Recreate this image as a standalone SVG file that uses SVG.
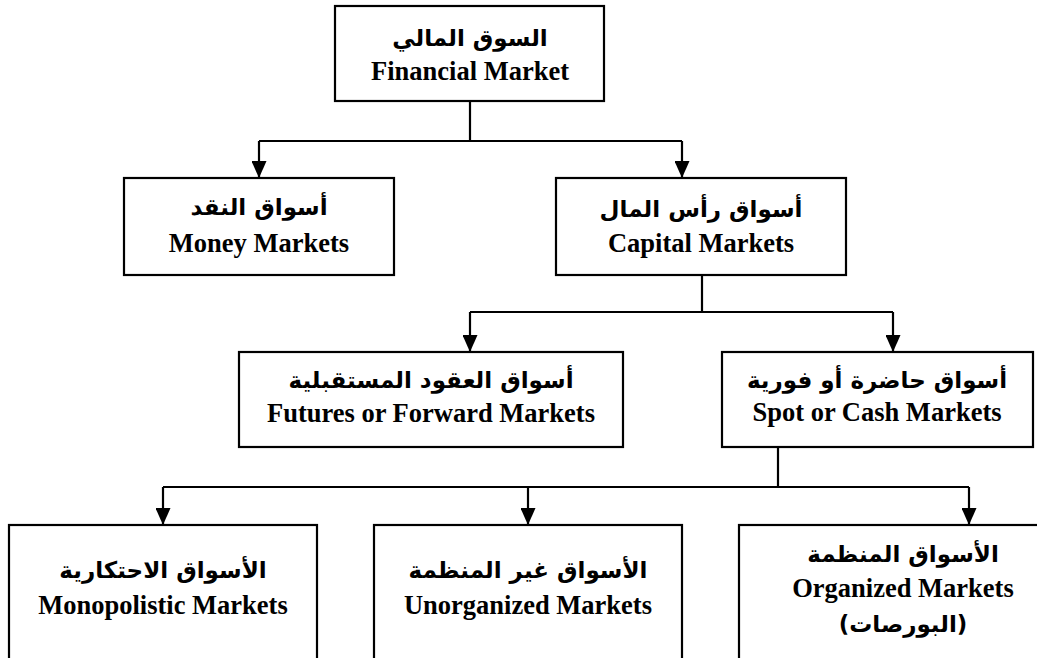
<svg xmlns="http://www.w3.org/2000/svg" width="1037" height="658" viewBox="0 0 1037 658">
<style>
.box{fill:#fff;stroke:#000;stroke-width:2.2}
.en{font-family:"Liberation Serif","Times New Roman",serif;font-weight:bold;font-size:26.5px;text-anchor:middle;fill:#000}
.ar{font-family:"DejaVu Sans","Liberation Serif",sans-serif;font-weight:bold;font-size:23px;text-anchor:middle;fill:#000}
.con{fill:none;stroke:#000;stroke-width:2.2}
</style>
<defs>
<marker id="arr" markerUnits="userSpaceOnUse" markerWidth="17" markerHeight="15" refX="17" refY="7.5" orient="auto" viewBox="0 0 17 15">
<path d="M0,0 L17,7.5 L0,15 Z" fill="#000"/>
</marker>
</defs>
<rect width="1037" height="658" fill="#fff"/>
<g id="connectors">
<path class="con" d="M470,101 V141 M259,141 H682"/>
<path class="con" d="M259,141 V178" marker-end="url(#arr)"/>
<path class="con" d="M682,141 V178" marker-end="url(#arr)"/>
<path class="con" d="M702,275 V312 M470,312 H893"/>
<path class="con" d="M470,312 V352" marker-end="url(#arr)"/>
<path class="con" d="M893,312 V352" marker-end="url(#arr)"/>
<path class="con" d="M778,447 V487 M163,487 H969"/>
<path class="con" d="M163,487 V525" marker-end="url(#arr)"/>
<path class="con" d="M528,487 V525" marker-end="url(#arr)"/>
<path class="con" d="M969,487 V525" marker-end="url(#arr)"/>
</g>
<g id="financial">
<rect class="box" x="335" y="6" width="269" height="95"/>
<text class="ar" x="470" y="46">السوق المالي</text>
<text class="en" x="470" y="80">Financial Market</text>
</g>
<g id="money">
<rect class="box" x="124" y="178" width="270" height="97"/>
<text class="ar" x="259" y="215">أسواق النقد</text>
<text class="en" x="259" y="252">Money Markets</text>
</g>
<g id="capital">
<rect class="box" x="556" y="178" width="290" height="97"/>
<text class="ar" x="701" y="217">أسواق رأس المال</text>
<text class="en" x="701" y="252">Capital Markets</text>
</g>
<g id="futures">
<rect class="box" x="239" y="352" width="384" height="95"/>
<text class="ar" x="431" y="388">أسواق العقود المستقبلية</text>
<text class="en" x="431" y="422">Futures or Forward Markets</text>
</g>
<g id="spot">
<rect class="box" x="722" y="352" width="311" height="95"/>
<text class="ar" x="877" y="388">أسواق حاضرة أو فورية</text>
<text class="en" x="877" y="421">Spot or Cash Markets</text>
</g>
<g id="monopolistic">
<rect class="box" x="9" y="525" width="308" height="180"/>
<text class="ar" x="163" y="578">الأسواق الاحتكارية</text>
<text class="en" x="163" y="614">Monopolistic Markets</text>
</g>
<g id="unorganized">
<rect class="box" x="374" y="525" width="308" height="180"/>
<text class="ar" x="528" y="578">الأسواق غير المنظمة</text>
<text class="en" x="528" y="614">Unorganized Markets</text>
</g>
<g id="organized">
<rect class="box" x="739" y="525" width="330" height="180"/>
<text class="ar" x="903" y="562">الأسواق المنظمة</text>
<text class="en" x="903" y="597">Organized Markets</text>
<text class="ar" x="903" y="632">(البورصات)</text>
</g>
</svg>
